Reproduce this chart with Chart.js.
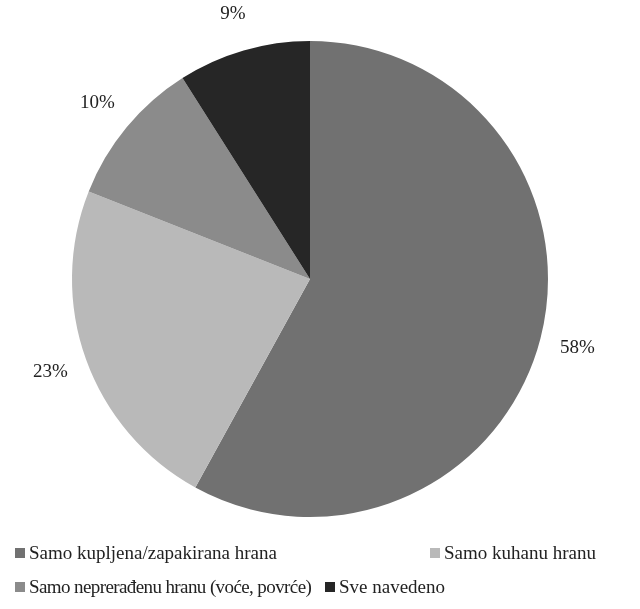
<!DOCTYPE html>
<html>
<head>
<meta charset="utf-8">
<script src="https://cdn.jsdelivr.net/npm/chart.js@4.4.0/dist/chart.umd.min.js"></script>
<style>
  html, body { margin: 0; padding: 0; background: #fff; }
  #wrap { position: relative; width: 640px; height: 609px; }
  #legend { position: absolute; left: 0; top: 0; width: 640px; height: 609px; pointer-events: none;
            font-family: 'Liberation Serif', 'Times New Roman', serif; font-size: 19px; color: #222; }
  .item { position: absolute; white-space: nowrap; line-height: 20px; }
  .tight { letter-spacing: -0.6px; }
  .box { display: inline-block; width: 10px; height: 10px; margin-right: 4px; vertical-align: 1px; }
</style>
</head>
<body>
<div id="wrap">
  <canvas id="pie" width="640" height="609"></canvas>
  <div id="legend"></div>
</div>
<script>
// Chart data
const labels = ['Samo kupljena/zapakirana hrana', 'Samo kuhanu hranu', 'Samo neprerađenu hranu (voće, povrće)', 'Sve navedeno'];
const values = [58, 23, 10, 9];
const colors = ['#717171', '#b9b9b9', '#8b8b8b', '#262626'];

// legend layout (left, top) for each entry
const legendPos = [[15, 543], [430, 543], [15, 577], [325, 577]];

const legendEl = document.getElementById('legend');
labels.forEach((text, i) => {
    const div = document.createElement('div');
    div.className = 'item' + (i === 2 ? ' tight' : '');
    div.style.left = legendPos[i][0] + 'px';
    div.style.top = legendPos[i][1] + 'px';
    div.innerHTML = '<span class="box" style="background:' + colors[i] + '"></span>' + text;
    legendEl.appendChild(div);
});

// percent labels outside the slices
const outsideLabels = {
    id: 'outsideLabels',
    afterDatasetsDraw(chart) {
        const c = chart.ctx;
        const meta = chart.getDatasetMeta(0);
        c.save();
        c.font = '19px "Liberation Serif", serif';
        c.fillStyle = '#222';
        c.textAlign = 'center';
        c.textBaseline = 'middle';
        meta.data.forEach((arc, i) => {
            const mid = (arc.startAngle + arc.endAngle) / 2;
            const r = arc.outerRadius + 38;
            const x = arc.x + Math.cos(mid) * r;
            const y = arc.y + Math.sin(mid) * r;
            c.fillText(values[i] + '%', x, y);
        });
        c.restore();
    }
};

new Chart(document.getElementById('pie'), {
    type: 'pie',
    data: {
        labels: labels,
        datasets: [{
            data: values,
            backgroundColor: colors,
            borderWidth: 0
        }]
    },
    options: {
        responsive: false,
        animation: false,
        layout: { padding: { top: 41, bottom: 92, left: 72, right: 92 } },
        plugins: {
            legend: { display: false },
            tooltip: { enabled: false }
        }
    },
    plugins: [outsideLabels]
});
</script>
</body>
</html>
